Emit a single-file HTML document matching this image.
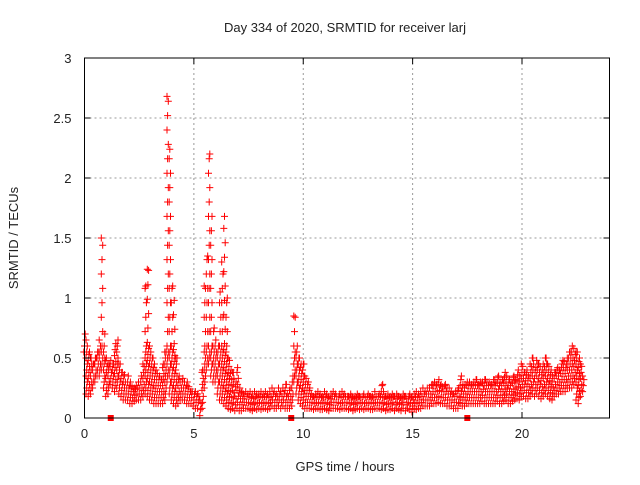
<!DOCTYPE html>
<html><head><meta charset="utf-8"><style>
body{margin:0;background:#fff;}
svg text{font-family:"Liberation Sans",sans-serif;font-size:13px;fill:#222;}
</style></head><body>
<svg id="chart" width="640" height="480" viewBox="0 0 640 480" xmlns="http://www.w3.org/2000/svg">
<rect width="640" height="480" fill="#fff"/>
<text x="345" y="32" text-anchor="middle">Day 334 of 2020, SRMTID for receiver larj</text>
<text x="345" y="471" text-anchor="middle">GPS time / hours</text>
<text transform="translate(18,238) rotate(-90)" text-anchor="middle">SRMTID / TECUs</text>
<g id="grid"></g>
<g id="marks"></g>
<g id="axes"></g>
</svg>
<script>
const xTicks=[0,5,10,15,20];
const yTicks=[0,0.5,1,1.5,2,2.5,3];
const yTickLabels=["0","0.5","1","1.5","2","2.5","3"];
const timeStep=0.1;
const hiValues=[
0.70,0.65,0.55,0.50,0.45,0.50,0.55,0.65,1.50,0.70,
0.50,0.45,0.48,0.45,0.62,0.65,0.45,0.38,0.36,0.30,
0.35,0.30,0.26,0.25,0.27,0.30,0.35,0.45,1.10,1.24,
0.60,0.50,0.45,0.40,0.35,0.32,0.45,0.55,2.68,2.24,
1.10,0.98,0.50,0.35,0.30,0.33,0.30,0.30,0.26,0.22,
0.20,0.22,0.20,0.15,0.40,1.10,1.35,2.20,1.68,0.75,
0.65,0.60,1.05,1.30,1.68,1.00,0.50,0.40,0.38,0.30,
0.42,0.25,0.22,0.20,0.22,0.20,0.22,0.20,0.22,0.20,
0.20,0.22,0.20,0.22,0.20,0.22,0.25,0.22,0.20,0.25,
0.22,0.25,0.28,0.20,0.25,0.35,0.85,0.60,0.50,0.45,
0.45,0.35,0.30,0.25,0.20,0.18,0.20,0.22,0.20,0.18,
0.22,0.20,0.18,0.20,0.22,0.20,0.18,0.20,0.22,0.20,
0.18,0.18,0.20,0.17,0.18,0.20,0.18,0.18,0.20,0.18,
0.20,0.18,0.18,0.22,0.18,0.20,0.28,0.22,0.18,0.20,
0.18,0.20,0.18,0.20,0.18,0.17,0.20,0.18,0.18,0.20,
0.18,0.20,0.22,0.20,0.22,0.25,0.22,0.25,0.25,0.28,
0.30,0.28,0.32,0.28,0.26,0.28,0.25,0.25,0.22,0.20,
0.22,0.25,0.35,0.28,0.28,0.30,0.30,0.28,0.30,0.32,
0.28,0.30,0.30,0.32,0.30,0.30,0.28,0.32,0.30,0.35,
0.30,0.32,0.38,0.35,0.32,0.30,0.35,0.32,0.40,0.35,
0.45,0.38,0.40,0.35,0.45,0.50,0.42,0.48,0.45,0.40,
0.45,0.50,0.45,0.40,0.35,0.38,0.42,0.40,0.45,0.48,
0.45,0.50,0.55,0.60,0.58,0.55,0.50,0.45,0.35];
const loValues=[
0.55,0.20,0.18,0.20,0.25,0.30,0.35,0.35,0.40,0.25,
0.18,0.20,0.28,0.25,0.22,0.25,0.20,0.18,0.15,0.15,
0.15,0.12,0.12,0.14,0.15,0.15,0.15,0.18,0.20,0.18,
0.15,0.15,0.12,0.12,0.12,0.12,0.12,0.15,0.30,0.20,
0.15,0.12,0.10,0.12,0.15,0.15,0.15,0.12,0.12,0.12,
0.10,0.08,0.08,0.02,0.08,0.25,0.40,0.45,0.35,0.30,
0.30,0.20,0.15,0.15,0.12,0.10,0.08,0.07,0.08,0.06,
0.08,0.06,0.06,0.08,0.08,0.08,0.07,0.06,0.08,0.07,
0.08,0.07,0.08,0.08,0.07,0.08,0.10,0.08,0.08,0.10,
0.08,0.10,0.08,0.08,0.08,0.10,0.30,0.20,0.15,0.12,
0.10,0.08,0.08,0.08,0.08,0.07,0.08,0.08,0.07,0.07,
0.08,0.07,0.06,0.08,0.08,0.08,0.08,0.07,0.08,0.08,
0.08,0.07,0.08,0.06,0.07,0.08,0.07,0.08,0.07,0.08,
0.08,0.07,0.07,0.08,0.08,0.08,0.07,0.08,0.06,0.07,
0.07,0.08,0.06,0.08,0.07,0.06,0.08,0.06,0.08,0.07,
0.05,0.08,0.07,0.08,0.08,0.10,0.10,0.10,0.10,0.12,
0.12,0.12,0.13,0.12,0.12,0.12,0.10,0.10,0.10,0.08,
0.08,0.08,0.12,0.10,0.10,0.12,0.12,0.12,0.12,0.12,
0.12,0.12,0.14,0.12,0.12,0.12,0.12,0.12,0.12,0.14,
0.12,0.12,0.14,0.15,0.12,0.12,0.14,0.15,0.16,0.15,
0.18,0.18,0.16,0.16,0.18,0.20,0.18,0.20,0.18,0.16,
0.18,0.20,0.18,0.16,0.15,0.18,0.20,0.20,0.22,0.22,
0.22,0.25,0.25,0.25,0.28,0.15,0.12,0.18,0.22];
const gapTimes=[1.2,9.45,17.5];

const L=84.5,R=609.5,T=58,B=418,XMAX=24,YMAX=3;
function xs(t){return L+t/XMAX*(R-L);}
function ys(v){return B-v/YMAX*(B-T);}
const NS="http://www.w3.org/2000/svg";
function mk(tag,attrs,parent){const e=document.createElementNS(NS,tag);for(const k in attrs)e.setAttribute(k,attrs[k]);parent.appendChild(e);return e;}
const grid=document.getElementById('grid'),marks=document.getElementById('marks'),axes=document.getElementById('axes');

xTicks.forEach((t,i)=>{
  const x=xs(t);
  if(t>0){const g=mk('line',{x1:x,x2:x,y1:T,y2:B,stroke:'#999','stroke-dasharray':'2,3'},grid);
  
  }
  mk('line',{x1:x,x2:x,y1:B,y2:B-6,stroke:'#000'},axes);
  mk('line',{x1:x,x2:x,y1:T,y2:T+6,stroke:'#000'},axes);
  const tx=mk('text',{x:x,y:B+20,'text-anchor':'middle'},axes);tx.textContent=String(t);
  
  
});
yTicks.forEach((v,i)=>{
  const y=ys(v);
  if(v>0&&v<YMAX){const g=mk('line',{x1:L,x2:R,y1:y,y2:y,stroke:'#999','stroke-dasharray':'2,3'},grid);
  
  }
  mk('line',{x1:L,x2:L+6,y1:y,y2:y,stroke:'#000'},axes);
  mk('line',{x1:R,x2:R-6,y1:y,y2:y,stroke:'#000'},axes);
  const tx=mk('text',{x:L-13,y:y+5,'text-anchor':'end'},axes);tx.textContent=yTickLabels[i];
  
  
});
mk('rect',{x:L,y:T,width:R-L,height:B-T,fill:'none',stroke:'#000'},axes);

let d='';
hiValues.forEach((hi,i)=>{
  const lo=loValues[i];const t=i*timeStep;
  const vals=[lo];
  let v=lo+0.05;
  while(v<hi){vals.push(v);v+=(v<0.6?0.05:0.12);}
  vals.push(hi);
  vals.forEach((v,j)=>{
    const x=xs(t+((j%3)-1)*0.03),y=ys(v);
    d+=`M${(x-3.5).toFixed(1)} ${y.toFixed(1)}h7M${x.toFixed(1)} ${(y-3.5).toFixed(1)}v7`;
  });
});
const p=mk('path',{d:d,stroke:'#f00','stroke-width':1,fill:'none'},marks);


gapTimes.forEach(t=>{
  const r=mk('rect',{x:xs(t)-3,y:B-3,width:6,height:6,fill:'#f00'},marks);
  
  
});
</script>
</body></html>
